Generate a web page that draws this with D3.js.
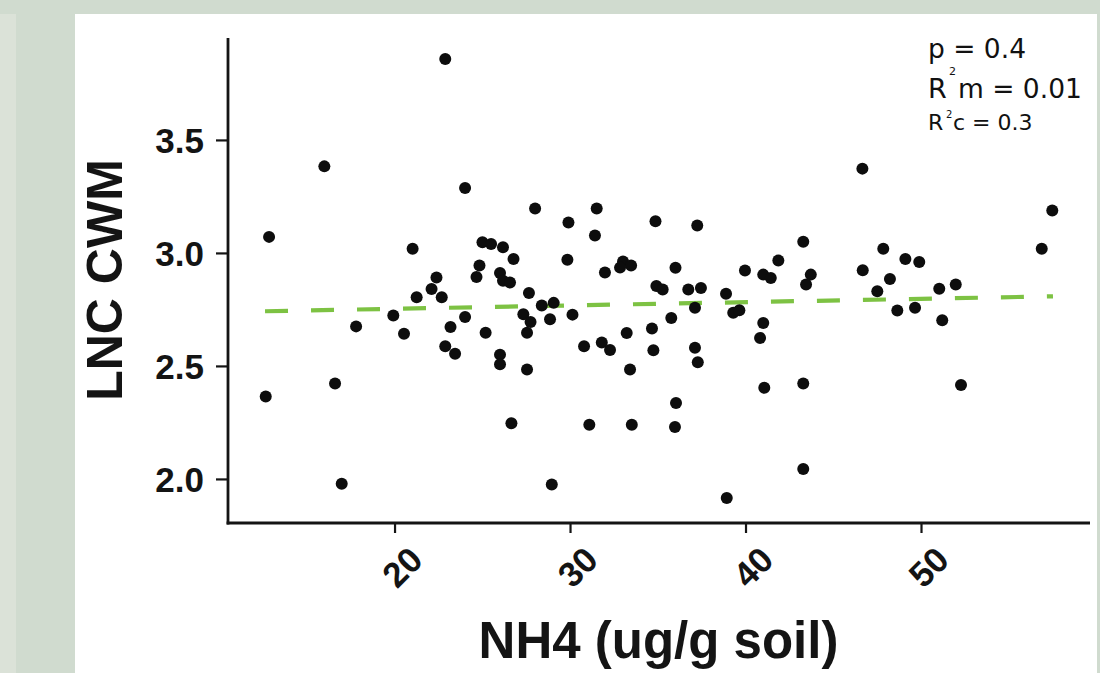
<!DOCTYPE html>
<html><head><meta charset="utf-8">
<script src="https://cdn.jsdelivr.net/npm/d3@7"></script>
<style>html,body{margin:0;padding:0;background:#fff;} svg{display:block;}</style>
</head><body>
<svg id="chart" width="1100" height="673"></svg>
<script>
// ---- data ----
const nh4 = [22.89,16.00,24.02,12.85,21.03,25.01,25.50,26.18,26.78,24.84,24.67,22.39,22.11,22.69,21.26,26.01,26.18,26.58,19.93,17.81,
  20.54,23.19,24.02,25.19,22.89,23.45,26.01,26.01,16.61,12.66,26.66,16.99,27.66,27.34,27.75,27.55,27.55,28.01,31.52,29.91,
  31.42,34.87,37.25,29.85,31.99,33.02,33.48,32.85,36.01,39.97,41.87,41.01,41.44,34.92,35.28,36.74,37.46,38.89,28.39,29.07,
  28.86,30.14,37.12,39.30,39.65,35.77,34.67,33.23,41.01,40.83,30.80,31.81,32.28,34.75,37.12,37.28,33.42,41.07,36.04,31.10,
  33.52,35.98,28.96,38.93,46.66,57.48,56.88,43.29,47.85,49.11,49.90,46.68,43.72,43.45,48.23,47.51,51.04,51.98,48.65,49.66,
  51.21,43.29,52.28,43.29];
const lncCwm = [3.858,3.383,3.287,3.071,3.018,3.047,3.040,3.025,2.973,2.944,2.893,2.891,2.840,2.804,2.804,2.911,2.877,2.869,2.723,2.675,
  2.642,2.672,2.716,2.647,2.587,2.554,2.550,2.507,2.422,2.365,2.246,1.979,2.823,2.729,2.694,2.647,2.484,3.197,3.197,3.135,
  3.077,3.140,3.121,2.970,2.913,2.962,2.944,2.935,2.934,2.922,2.966,2.904,2.889,2.854,2.838,2.838,2.845,2.819,2.767,2.779,
  2.707,2.727,2.757,2.735,2.746,2.712,2.666,2.646,2.690,2.624,2.587,2.604,2.571,2.569,2.580,2.516,2.484,2.403,2.336,2.240,
  2.240,2.230,1.975,1.916,3.373,3.188,3.019,3.049,3.019,2.973,2.960,2.923,2.904,2.860,2.885,2.830,2.841,2.860,2.745,2.757,
  2.702,2.422,2.416,2.044];
const trendX = [12.62, 57.52];
const trendY = [2.742, 2.808];
const xTicks = [20, 30, 40, 50];
const yTicks = [2.0, 2.5, 3.0, 3.5];
const xTitle = "NH4 (ug/g soil)";
const yTitle = "LNC CWM";

// ---- drawing ----
const svg = d3.select("#chart");
// decorative background
svg.append("rect").attr("x",0).attr("y",0).attr("width",1100).attr("height",673).attr("fill","#d0dbcf");
svg.append("rect").attr("x",0).attr("y",14).attr("width",16).attr("height",659).attr("fill","#dbe2d8");
svg.append("rect").attr("x",75).attr("y",14).attr("width",1022).attr("height",659).attr("fill","#ffffff");

const x = d3.scaleLinear().domain([10.51, 59.63]).range([228, 1090]);
const y = d3.scaleLinear().domain([1.805, 3.951]).range([523, 38]);

const ink = "#141414";

// y axis
const yAxis = svg.append("g").attr("transform","translate(228,0)")
  .call(d3.axisLeft(y).tickValues(yTicks).tickFormat(d3.format(".1f")).tickSize(12).tickPadding(12));
yAxis.select(".domain").remove();
yAxis.selectAll(".tick line").attr("stroke", ink).attr("stroke-width", 2.2);
yAxis.selectAll(".tick text").attr("fill", ink)
  .style("font-family","'Liberation Sans', Arial, sans-serif").style("font-weight","bold").style("font-size","35px")
  .attr("dy","0.36em");

// x axis
const xAxis = svg.append("g").attr("transform","translate(0,523)")
  .call(d3.axisBottom(x).tickValues(xTicks).tickFormat(d3.format("d")).tickSize(10));
xAxis.select(".domain").remove();
xAxis.selectAll(".tick line").attr("stroke", ink).attr("stroke-width", 2.2);
xAxis.selectAll(".tick text").attr("fill", ink)
  .style("font-family","'Liberation Sans', Arial, sans-serif").style("font-weight","bold").style("font-size","35px")
  .attr("text-anchor","middle").attr("dominant-baseline","central").attr("y",0).attr("dy",null)
  .attr("transform","translate(7,44) rotate(-45)");

// axis lines
svg.append("line").attr("x1",228).attr("x2",228).attr("y1",y.range()[1]).attr("y2",524.4)
  .attr("stroke",ink).attr("stroke-width",2.8);
svg.append("line").attr("x1",226.6).attr("x2",x.range()[1]).attr("y1",523).attr("y2",523)
  .attr("stroke",ink).attr("stroke-width",2.8);

// titles
svg.append("text").attr("x",658.5).attr("y",658).attr("text-anchor","middle")
  .style("font-family","'Liberation Sans', Arial, sans-serif").style("font-weight","bold").style("font-size","51px")
  .attr("fill",ink).text(xTitle);
svg.append("text").attr("transform","translate(122,280) rotate(-90)").attr("text-anchor","middle")
  .style("font-family","'Liberation Sans', Arial, sans-serif").style("font-weight","bold").style("font-size","50px")
  .attr("fill",ink).text(yTitle);

// trend line
svg.append("path").datum(trendX.map((v,i)=>[v,trendY[i]]))
  .attr("d", d3.line().x(d=>x(d[0])).y(d=>y(d[1])))
  .attr("fill","none").attr("stroke","#7dc243").attr("stroke-width",4.2).attr("stroke-dasharray","23,23");

// points
svg.append("g").selectAll("circle").data(nh4.map((v,i)=>[v,lncCwm[i]])).join("circle")
  .attr("cx",d=>x(d[0])).attr("cy",d=>y(d[1])).attr("r",6).attr("fill","#0d0d0d");

// stats annotation
const ann = svg.append("g").style("font-family","'DejaVu Sans', sans-serif").attr("fill","#111");
ann.append("text").attr("x",928).attr("y",58).style("font-size","26.5px").text("p = 0.4");
ann.append("text").attr("x",928).attr("y",98).style("font-size","27px").text("R");
ann.append("text").attr("x",949).attr("y",75).style("font-size","11px").text("2");
ann.append("text").attr("x",958).attr("y",98).style("font-size","26.5px").text("m = 0.01");
ann.append("text").attr("x",928).attr("y",130).style("font-size","22px").text("R");
ann.append("text").attr("x",946).attr("y",118).style("font-size","10px").text("2");
ann.append("text").attr("x",953).attr("y",130).style("font-size","22px").text("c = 0.3");
</script>
</body></html>
